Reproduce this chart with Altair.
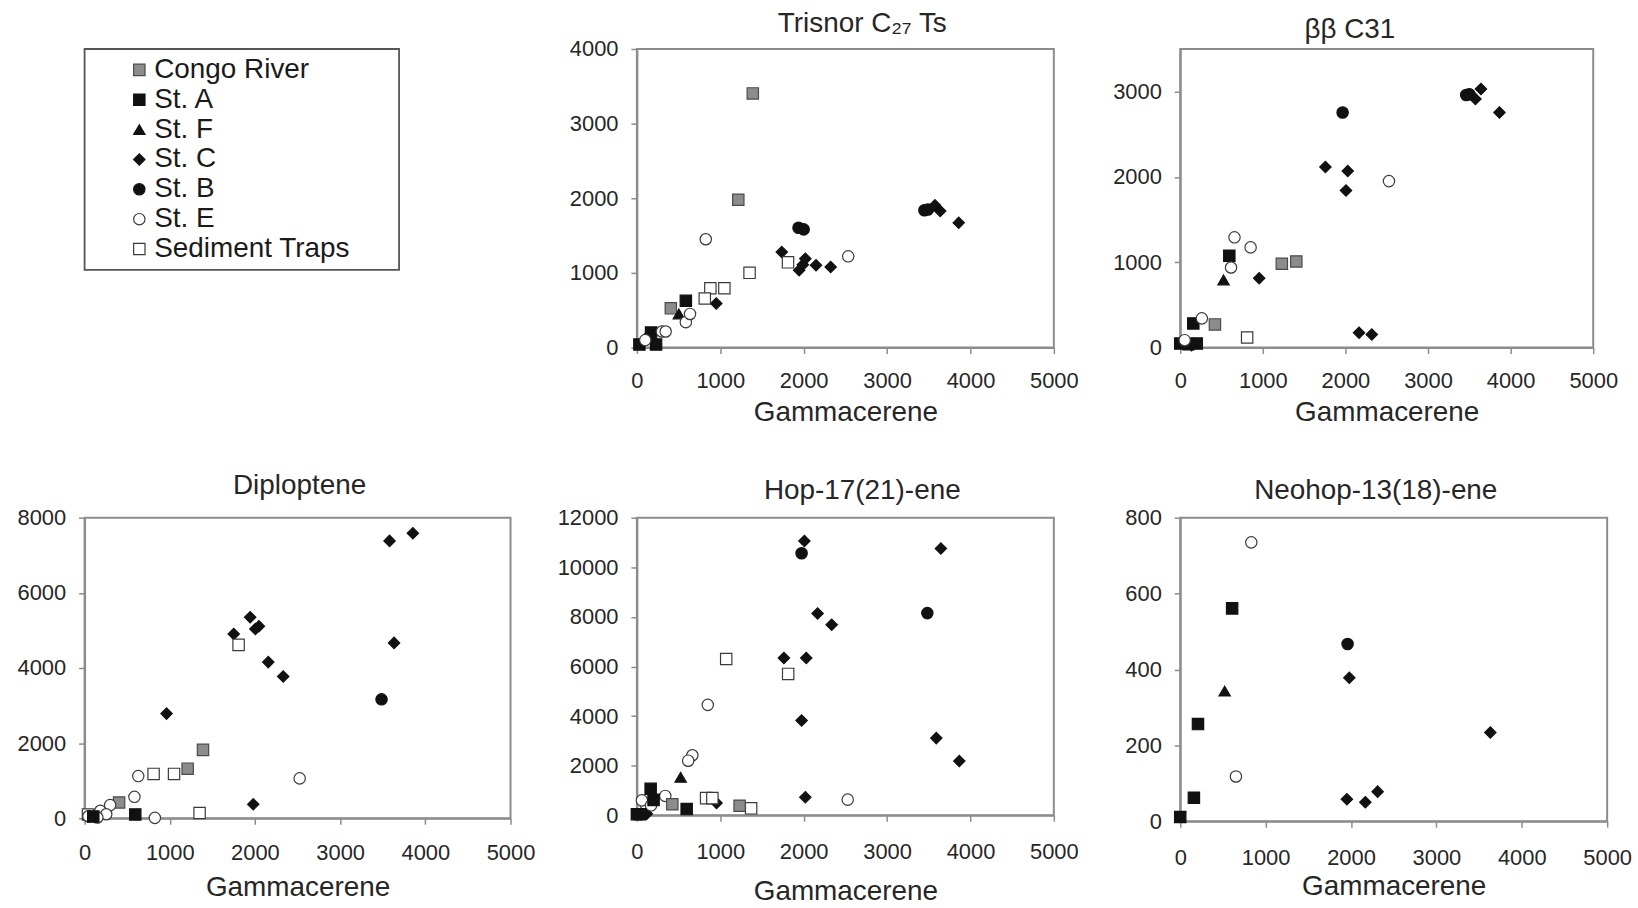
import altair as alt
import pandas as pd

FONT = "Liberation Sans"

# ---- categories & marker styling ----
stations = ["Congo River", "St. A", "St. F", "St. C", "St. B", "St. E", "Sediment Traps"]
shapes = ["square", "square", "triangle-up", "diamond", "circle", "circle", "square"]
fills = ["#8c8c8c", "#111111", "#111111", "#111111", "#111111", "#ffffff", "#ffffff"]
strokes = ["#4a4a4a", "#111111", "#111111", "#111111", "#111111", "#3a3a3a", "#3a3a3a"]
sizes = [130, 130, 150, 165, 215, 105, 130]

x_ticks = [0, 1000, 2000, 3000, 4000, 5000]

# ---- Trisnor C27 Ts ----
trisnor_station = (["Congo River"] * 3 + ["St. A"] * 4 + ["St. F"] + ["St. C"] * 11 +
                   ["St. B"] * 4 + ["St. E"] * 7 + ["Sediment Traps"] * 5)
trisnor_x = [1390, 1216, 407,
             587, 30, 170, 230,
             503,
             952, 1737, 1946, 1990, 2020, 2148, 2324, 3574, 3637, 3859, 140,
             1938, 2000, 3448, 3490,
             826, 2534, 587, 637, 300, 345, 100,
             1351, 1812, 881, 1049, 814]
trisnor_y = [3405, 1980, 525,
             626, 40, 200, 40,
             450,
             591, 1279, 1036, 1110, 1190, 1102, 1080, 1905, 1830, 1671, 160,
             1605, 1583, 1839, 1850,
             1451, 1222, 340, 450, 215, 215, 100,
             1001, 1142, 794, 794, 657]

# ---- bb C31 ----
bb_station = (["Congo River"] * 3 + ["St. A"] * 5 + ["St. F"] + ["St. C"] * 10 +
              ["St. B"] * 3 + ["St. E"] * 6 + ["Sediment Traps"])
bb_x = [1230, 1405, 420,
        594, 158, 0, 200, 100,
        524,
        956, 1758, 2028, 2007, 2165, 2319, 3641, 3574, 3865, 137,
        1966, 3462, 3500,
        657, 852, 615, 2527, 262, 54,
        810]
bb_y = [982, 1009, 271,
        1076, 283, 47, 47, 40,
        793,
        813, 2116, 2069, 1841, 173, 153, 3031, 2913, 2756, 27,
        2756, 2960, 2970,
        1292, 1174, 938, 1951, 342, 86,
        118]

# ---- Diploptene ----
diplo_station = (["St. C"] * 12 + ["St. B"] + ["Sediment Traps"] * 5 + ["Congo River"] * 3 +
                 ["St. E"] * 9 + ["St. A"] * 2)
diplo_x = [3580, 3854, 3633, 1944, 1751, 2005, 2046, 2156, 2332, 962, 1980, 110,
           3486,
           1808, 810, 1050, 1350, 40,
           1390, 1210, 405,
           630, 2525, 585, 825, 300, 185, 254, 150, 45,
           595, 102]
diplo_y = [7383, 7586, 4668, 5349, 4907, 5040, 5110, 4156, 3775, 2785, 370, 60,
           3165,
           4615, 1180, 1180, 140, 100,
           1820, 1320, 420,
           1122, 1061, 570, 10, 350, 200, 106, 20, 53,
           100, 44]

# ---- Hop-17(21)-ene ----
hop_station = (["St. C"] * 12 + ["St. B"] * 2 + ["Sediment Traps"] * 5 + ["St. E"] * 8 +
               ["St. F"] + ["St. A"] * 5 + ["Congo River"] * 2)
hop_x = [2009, 3645, 2167, 2336, 1763, 2031, 1975, 3590, 3866, 2020, 955, 119,
         1975, 3483,
         1071, 1814, 830, 905, 1370,
         850, 665, 615, 2528, 340, 100, 60, 170,
         525,
         165, 200, 597, 0, 40,
         425, 1232]
hop_y = [11062, 10754, 8139, 7683, 6342, 6342, 3821, 3111, 2185, 730, 490, 60,
         10566, 8152,
         6302, 5699, 690, 690, 280,
         4452, 2420, 2200, 630, 780, 460, 600, 400,
         1530,
         1065, 620, 250, 40, 40,
         445, 385]

# ---- Neohop-13(18)-ene ----
neo_station = ["St. E"] * 2 + ["St. A"] * 4 + ["St. F"] + ["St. B"] + ["St. C"] * 5
neo_x = [832, 652, 608, 208, 160, 0, 520, 1960, 1980, 3632, 1952, 2168, 2312]
neo_y = [735, 118, 561, 256, 62, 11, 343, 467, 378, 234, 58, 50, 78]

AXIS_GRAY = "#8c8c8c"
LABEL_COLOR = "#262626"


def panel(station, xs, ys, title, ymax, ystep, w, h, title_dx, title_offset,
          x_label_pad, x_title_pad):
    df = pd.DataFrame({"station": station, "x": xs, "y": ys})
    return alt.Chart(df).mark_point(filled=True, opacity=1, strokeWidth=1.2).encode(
        x=alt.X("x:Q",
                scale=alt.Scale(domain=[0, 5000], nice=False),
                axis=alt.Axis(values=x_ticks, title="Gammacerene", format="d",
                              labelFlush=False, labelOverlap=False,
                              labelPadding=x_label_pad, titlePadding=x_title_pad)),
        y=alt.Y("y:Q",
                scale=alt.Scale(domain=[0, ymax], nice=False),
                axis=alt.Axis(values=list(range(0, ymax + 1, ystep)), title=None,
                              format="d", labelFlush=False, labelPadding=13)),
        shape=alt.Shape("station:N", scale=alt.Scale(domain=stations, range=shapes), legend=None),
        fill=alt.Fill("station:N", scale=alt.Scale(domain=stations, range=fills), legend=None),
        stroke=alt.Stroke("station:N", scale=alt.Scale(domain=stations, range=strokes), legend=None),
        size=alt.Size("station:N", scale=alt.Scale(domain=stations, range=sizes), legend=None),
    ).properties(
        width=w, height=h,
        title=alt.TitleParams(title, dx=title_dx, offset=title_offset, anchor="middle"),
    )


p_trisnor = panel(trisnor_station, trisnor_x, trisnor_y, "Trisnor C\u2082\u2087 Ts",
                  4000, 1000, 419, 300, 17, 0, 17, 7)
p_bb = panel(bb_station, bb_x, bb_y, "\u03b2\u03b2 C31",
             3500, 1000, 415, 300, -37, 5, 17, 7)
p_diplo = panel(diplo_station, diplo_x, diplo_y, "Diploptene",
                8000, 2000, 428, 302, 2, 7, 18, 11)
p_hop = panel(hop_station, hop_x, hop_y, "Hop-17(21)-ene",
              12000, 2000, 419, 299, 17, 2, 20, 16)
p_neo = panel(neo_station, neo_x, neo_y, "Neohop-13(18)-ene",
              800, 200, 429, 305, -18, 2, 20, 5)

# ---- legend panel ----
leg_df = pd.DataFrame({"station": stations})
leg_base = alt.Chart(leg_df).encode(
    y=alt.Y("station:N", sort=stations, axis=None, scale=alt.Scale(padding=0.7))
)
leg_pts = leg_base.mark_point(filled=True, opacity=1, strokeWidth=1.2).encode(
    x=alt.value(55),
    shape=alt.Shape("station:N", scale=alt.Scale(domain=stations, range=shapes), legend=None),
    fill=alt.Fill("station:N", scale=alt.Scale(domain=stations, range=fills), legend=None),
    stroke=alt.Stroke("station:N", scale=alt.Scale(domain=stations, range=strokes), legend=None),
    size=alt.Size("station:N", scale=alt.Scale(domain=stations, range=sizes), legend=None),
)
leg_txt = leg_base.mark_text(align="left", baseline="middle", fontSize=28, font=FONT,
                             color="#1a1a1a").encode(
    x=alt.value(70), text="station:N"
)
legend_panel = (leg_pts + leg_txt).properties(
    width=316, height=222,
    view=alt.ViewBackground(stroke="#555555", strokeWidth=1.8, fill="white"),
)

chart = alt.concat(
    legend_panel, p_trisnor, p_bb, p_diplo, p_hop, p_neo,
    columns=3, spacing={"row": 171, "column": 127}, bounds="flush", align="each",
).properties(
    padding={"left": 16, "top": 7, "right": 5, "bottom": 5},
    background="white",
).configure_view(
    stroke=AXIS_GRAY, strokeWidth=2
).configure_axis(
    grid=False, domainColor=AXIS_GRAY, domainWidth=2, tickColor=AXIS_GRAY,
    tickWidth=1.5, tickSize=6, labelFont=FONT, labelFontSize=22,
    labelColor=LABEL_COLOR, titleFont=FONT, titleFontSize=28,
    titleFontWeight="normal", titleColor=LABEL_COLOR,
).configure_title(
    font=FONT, fontSize=28, fontWeight="normal", color=LABEL_COLOR,
)

chart.save("out.html", embed_options={"renderer": "svg", "actions": False})
